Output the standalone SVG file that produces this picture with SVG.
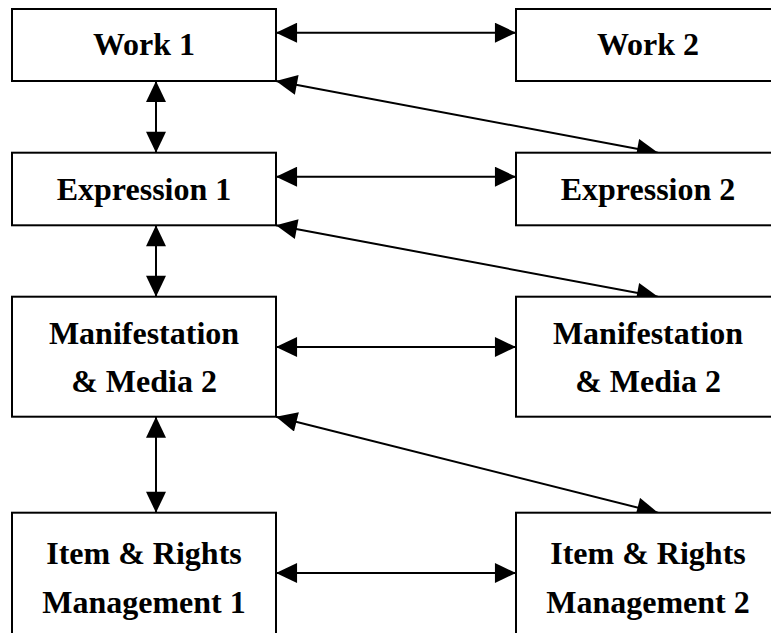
<svg xmlns="http://www.w3.org/2000/svg" width="771" height="633" viewBox="0 0 771 633">
  <defs>
    <marker id="head" markerUnits="userSpaceOnUse" markerWidth="22" markerHeight="20" viewBox="0 0 20 19" refX="20" refY="9.5" orient="auto-start-reverse">
      <path d="M0,0 L20,9.5 L0,19 Z" fill="#000"/>
    </marker>
    <style>
      .box { fill: #fff; stroke: #000; stroke-width: 2; }
      .lbl { font-family: "Liberation Serif", "Times New Roman", serif; font-weight: bold; font-size: 32px; fill: #000; text-anchor: middle; }
      .link { stroke: #000; stroke-width: 2; fill: none; marker-start: url(#head); marker-end: url(#head); }
    </style>
  </defs>
  <rect width="771" height="633" fill="#fff"/>

  <g id="connectors">
    <!-- horizontal links between the two columns -->
    <line class="link" x1="276" y1="32.7" x2="516" y2="32.7"/>
    <line class="link" x1="276" y1="176.7" x2="516" y2="176.7"/>
    <line class="link" x1="276" y1="347" x2="516" y2="347"/>
    <line class="link" x1="276" y1="573" x2="516" y2="573"/>
    <!-- vertical links down the left column -->
    <line class="link" x1="156" y1="81" x2="156" y2="152.7"/>
    <line class="link" x1="156" y1="225.3" x2="156" y2="296.7"/>
    <line class="link" x1="156" y1="416.7" x2="156" y2="512.7"/>
    <!-- diagonal links to the next level on the right -->
    <line class="link" x1="276" y1="81" x2="658" y2="152.7"/>
    <line class="link" x1="276" y1="225.3" x2="658" y2="296.7"/>
    <line class="link" x1="276" y1="416.7" x2="658" y2="512.7"/>
  </g>

  <g id="work1">
    <rect class="box" x="12" y="9" width="264" height="72"/>
    <text class="lbl" x="144" y="55">Work 1</text>
  </g>
  <g id="work2">
    <rect class="box" x="516" y="9" width="264" height="72"/>
    <text class="lbl" x="648" y="55">Work 2</text>
  </g>
  <g id="expression1">
    <rect class="box" x="12" y="152.7" width="264" height="72.6"/>
    <text class="lbl" x="144" y="200">Expression 1</text>
  </g>
  <g id="expression2">
    <rect class="box" x="516" y="152.7" width="264" height="72.6"/>
    <text class="lbl" x="648" y="200">Expression 2</text>
  </g>
  <g id="manifestation1">
    <rect class="box" x="12" y="296.7" width="264" height="120"/>
    <text class="lbl" x="144" y="344">Manifestation</text>
    <text class="lbl" x="144" y="392">&amp; Media 2</text>
  </g>
  <g id="manifestation2">
    <rect class="box" x="516" y="296.7" width="264" height="120"/>
    <text class="lbl" x="648" y="344">Manifestation</text>
    <text class="lbl" x="648" y="392">&amp; Media 2</text>
  </g>
  <g id="item1">
    <rect class="box" x="12" y="512.7" width="264" height="130"/>
    <text class="lbl" x="144" y="564">Item &amp; Rights</text>
    <text class="lbl" x="144" y="613">Management 1</text>
  </g>
  <g id="item2">
    <rect class="box" x="516" y="512.7" width="264" height="130"/>
    <text class="lbl" x="648" y="564">Item &amp; Rights</text>
    <text class="lbl" x="648" y="613">Management 2</text>
  </g>
</svg>
